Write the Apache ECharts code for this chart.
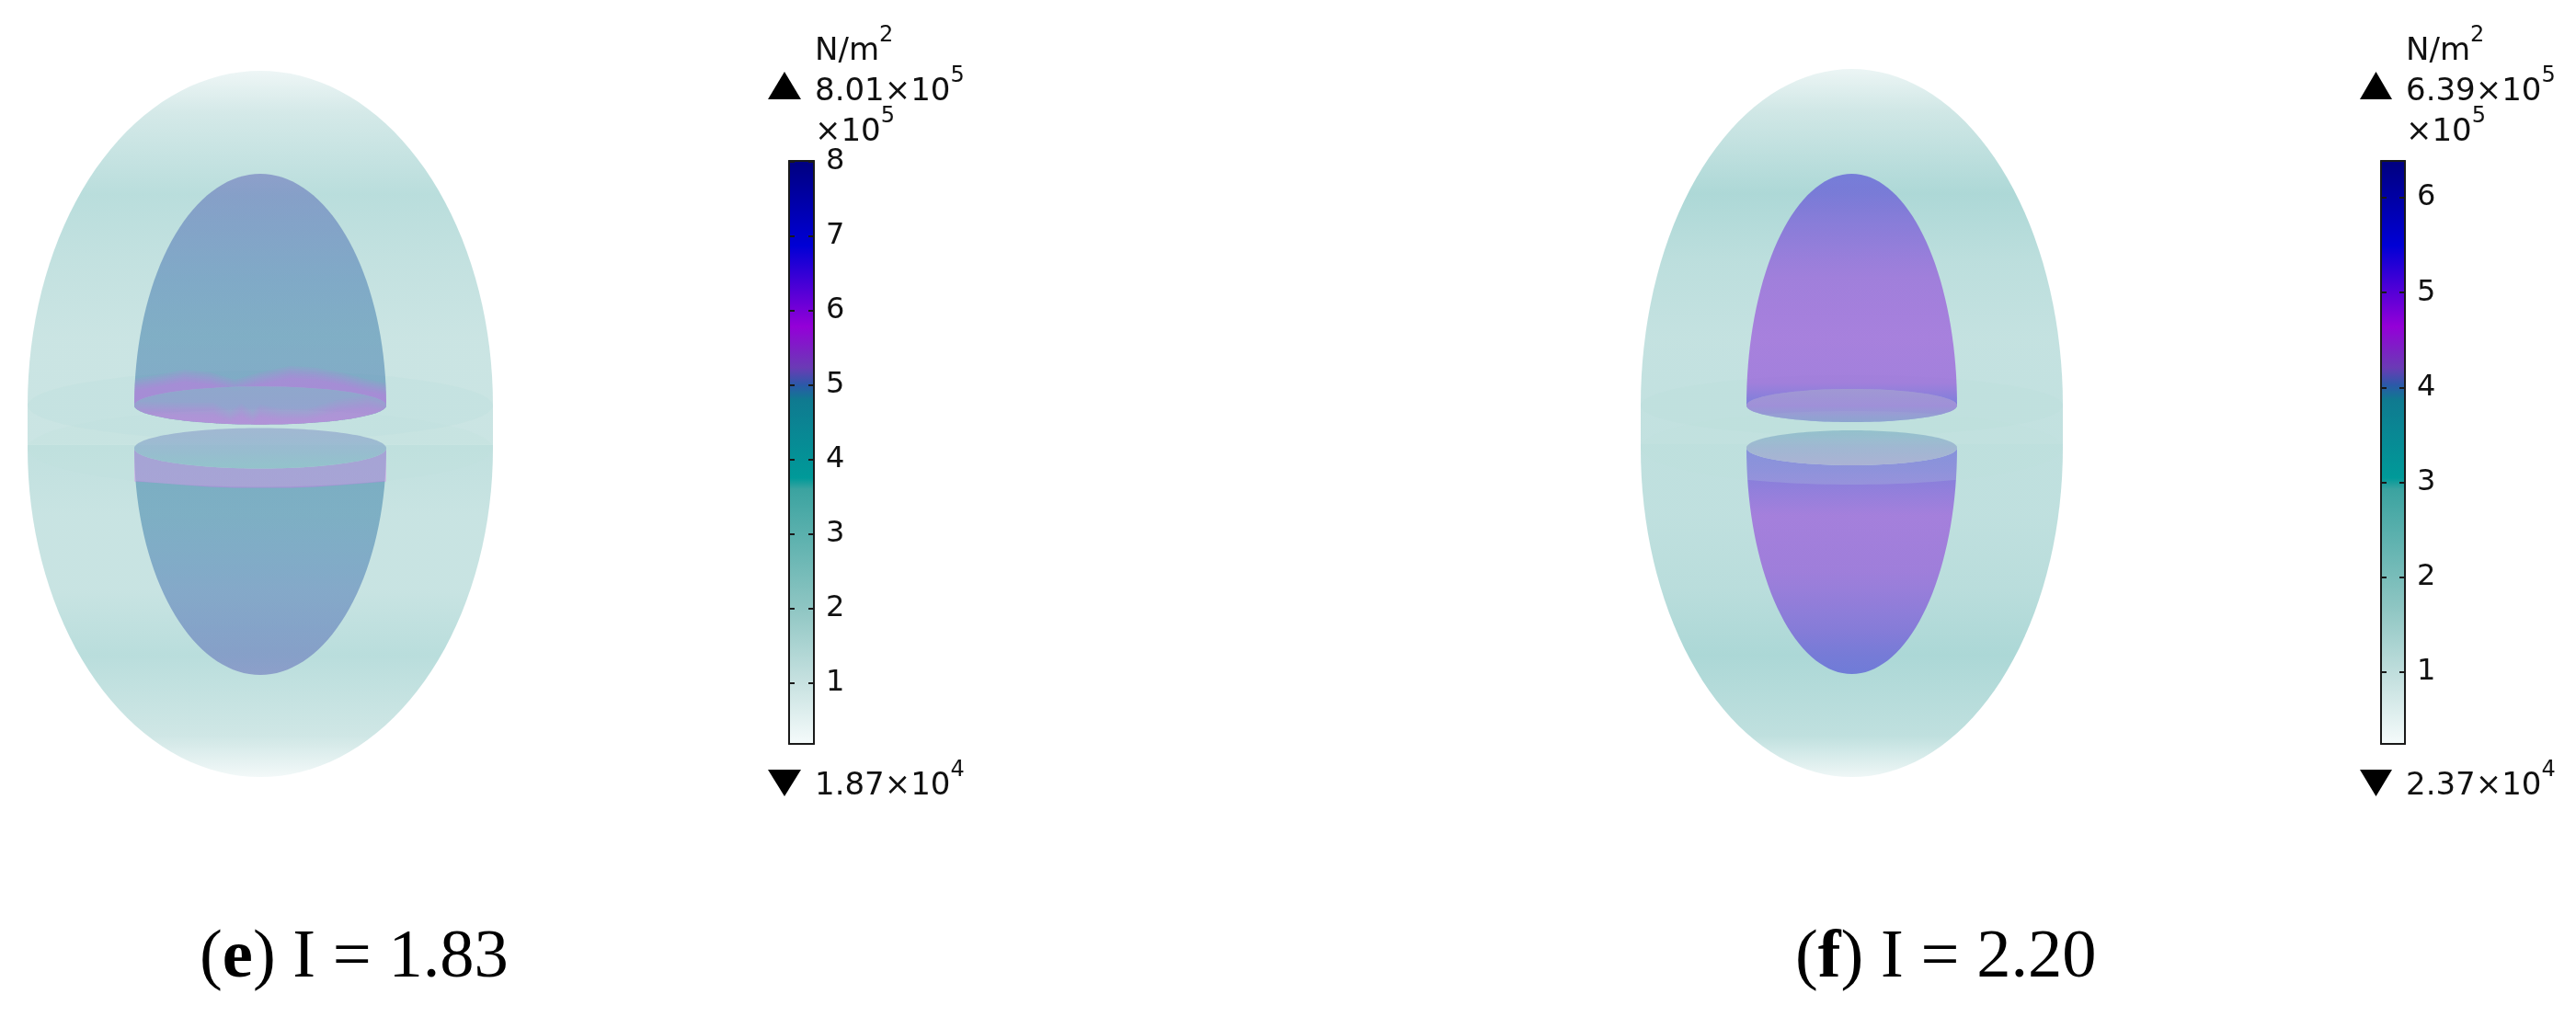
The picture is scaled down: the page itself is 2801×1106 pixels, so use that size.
<!DOCTYPE html>
<html>
<head>
<meta charset="utf-8">
<style>
html, body { margin: 0; padding: 0; background: #fff; }
#main { width: 2801px; height: 1106px; }
</style>
<script src="https://cdn.jsdelivr.net/npm/echarts@6/dist/echarts.min.js"></script>
</head>
<body>
<div id="main"></div>
<script>
// colour scale of the stress legend, offsets are fractions of the range
const scaleOffsets = [0, 0.104, 0.232, 0.437, 0.456, 0.59, 0.615, 0.645, 0.716, 0.855, 1];
const scaleColors = ["#f5fbfb", "#c8e2e1", "#8fc6c3", "#3ba3a0", "#009a99", "#0f7a90", "#2a5aa8", "#6a3bb5", "#9400d8", "#0000d5", "#00007f"];

// legend values, x10^5 N/m^2
const rangeE = [0.187, 8.01];
const rangeF = [0.237, 6.39];
const ticksE = [1, 2, 3, 4, 5, 6, 7, 8];
const ticksF = [1, 2, 3, 4, 5, 6];
const captionValues = ["1.83", "2.20"];
const maxMantissa = ["8.01", "6.39"];
const minMantissa = ["1.87", "2.37"];
const maxPower = "5";
const minPower = "4";

// stress along the domes, height 0 = rim, 1 = pole
const outerHeights = [0, 0.2, 0.43, 0.63, 0.875, 1];
const outerUpperE = [2.1, 2.1, 2.4, 2.8, 1.7, 0.7];
const outerLowerE = [2.5, 2.2, 2.2, 2.8, 1.9, 0.5];
const outerUpperF = [2.0, 1.95, 2.2, 2.7, 1.55, 0.7];
const outerLowerF = [2.1, 2.1, 2.3, 2.75, 2.1, 0.6];

const innerHeights = [0, 0.1, 0.3, 0.55, 0.8, 1];
const innerUpperE = [5.0, 4.95, 4.92, 4.97, 5.05, 5.12];
const innerLowerE = [4.9, 4.9, 4.9, 4.97, 5.05, 5.12];
const innerUpperF = [5.3, 4.8, 4.75, 4.8, 5.05, 5.3];
const innerLowerF = [5.35, 5.2, 4.75, 4.8, 5.05, 5.35];

// stress across the two cut faces, back edge to front edge
const faceUpperE = [4.95, 5.0, 5.2];
const faceLowerE = [5.1, 5.0, 4.85];
const faceUpperF = [4.2, 4.4, 4.05];
const faceLowerF = [3.93, 4.1, 4.2];

// edges of the high stress band around the rim in (e)
const bandX = [-1, -0.78, -0.6, -0.4, -0.2, 0, 0.24, 0.44, 0.64, 0.83, 1];
const bandUpperE = [29, 34, 39, 36, 28, 36, 43, 41, 36, 29, 24];
const bandLowerE = [36, 38, 40, 42, 43, 43, 43, 42, 40, 38, 36];
const faceBandX = [-1, -0.61, -0.37, -0.24, -0.15, -0.06, 0, 0.17, 0.37, 0.61, 0.85, 1];
const faceBandE = [4, 3, 3, -6, 2, -7, 1, -4, -4, 6, 11, 6];

// model geometry
const panelE = {
  halfH: 384, rimUp: 20, rimLow: -26.5,
  outer: {rx: 253, up: 364, low: 357.5},
  inner: {rx: 137, up: 252, low: 246.5},
  faceUp: 20.7, faceLow: 22, ringUp: 38, ringLow: 42
};
const panelF = {
  halfH: 385, rimUp: 19, rimLow: -27,
  outer: {rx: 229.5, up: 366, low: 358},
  inner: {rx: 114.5, up: 252, low: 246},
  faceUp: 18, faceLow: 19, ringUp: 33, ringLow: 40
};

const main_element = document.querySelector("#main");
const myChart = echarts.init(main_element);

function hexToRgb(hex) {
  return [1, 3, 5].map(function (i) { return parseInt(hex.substr(i, 2), 16); });
}

function stressColor(v, range, alpha) {
  const f = Math.min(1, Math.max(0, (v - range[0]) / (range[1] - range[0])));
  let i = 0;
  while (i < scaleOffsets.length - 2 && f > scaleOffsets[i + 1]) i++;
  const t = (f - scaleOffsets[i]) / (scaleOffsets[i + 1] - scaleOffsets[i]);
  const a = hexToRgb(scaleColors[i]);
  const b = hexToRgb(scaleColors[i + 1]);
  const c = a.map(function (x, k) { return Math.round(x + (b[k] - x) * t); });
  return "rgba(" + c.join(",") + "," + alpha + ")";
}

// half ellipse from -rx to +rx, side = 1 above the centre, -1 below it
function arc(cy, rx, ry, side) {
  const pts = [];
  for (let i = 0; i <= 72; i++) {
    const a = Math.PI * i / 72;
    pts.push([-rx * Math.cos(a), cy + side * ry * Math.sin(a)]);
  }
  return pts;
}

function customSeries(gridIndex, build, z) {
  return {
    type: "custom",
    xAxisIndex: gridIndex,
    yAxisIndex: gridIndex,
    data: [0],
    silent: true,
    clip: false,
    z: z,
    renderItem: function (params, api) {
      return build(api);
    }
  };
}

function verticalFill(api, yFrom, yTo, stops) {
  const p0 = api.coord([0, yFrom]);
  const p1 = api.coord([0, yTo]);
  return new echarts.graphic.LinearGradient(0, p0[1], 0, p1[1], stops, true);
}

function domeStops(heights, values, range, alpha) {
  return heights.map(function (h, i) {
    return {offset: h, color: stressColor(values[i], range, alpha)};
  });
}

function polygon(api, pts, fill) {
  return {
    type: "polygon",
    shape: {points: pts.map(function (p) { return api.coord(p); })},
    style: {fill: fill}
  };
}

// stacked thin layers so a wavy edge fades out instead of ending hard
function softBand(api, edge, closing, clipPts, color) {
  const children = [];
  for (let k = 0; k < 6; k++) {
    const pts = edge.map(function (p) { return [p[0], p[1] - k * 2.5]; }).concat(closing);
    children.push(polygon(api, pts, color));
  }
  return {
    type: "group",
    clipPath: {type: "polygon", shape: {points: clipPts.map(function (p) { return api.coord(p); })}},
    children: children
  };
}

function sceneSeries(gridIndex, panel, range, profile) {
  const list = [];
  const o = panel.outer;
  const n = panel.inner;
  const innerAlpha = 0.43;
  // outer silhouette, both halves
  const outerUpper = arc(panel.rimUp, o.rx, o.up, 1).concat([[o.rx, panel.rimLow + 4], [-o.rx, panel.rimLow + 4]]);
  list.push(customSeries(gridIndex, function (api) {
    const g = verticalFill(api, panel.rimUp, panel.rimUp + o.up, domeStops(outerHeights, profile.outerUp, range, 0.45));
    return polygon(api, outerUpper, g);
  }, 1));
  const outerLower = arc(panel.rimLow, o.rx, o.low, -1).concat([[o.rx, panel.rimLow + 4], [-o.rx, panel.rimLow + 4]]);
  list.push(customSeries(gridIndex, function (api) {
    const g = verticalFill(api, panel.rimLow, panel.rimLow - o.low, domeStops(outerHeights, profile.outerLow, range, 0.45));
    return polygon(api, outerLower, g);
  }, 1));

  // upper ring of the shell stays behind the inner body
  const ringUp = arc(panel.rimUp, o.rx, panel.ringUp, 1).concat(arc(panel.rimUp, o.rx, panel.ringUp, -1).reverse());
  list.push(customSeries(gridIndex, function (api) {
    return polygon(api, ringUp, "rgba(186,222,218,0.28)");
  }, 2));

  // inner body, upper half runs down to the front of its face
  const innerUpper = arc(panel.rimUp, n.rx, n.up, 1).concat(arc(panel.rimUp, n.rx, panel.faceUp, -1).reverse());
  const innerLower = arc(panel.rimLow, n.rx, n.low, -1).concat(arc(panel.rimLow, n.rx, panel.faceLow, -1).reverse());
  list.push(customSeries(gridIndex, function (api) {
    const g = verticalFill(api, panel.rimUp, panel.rimUp + n.up, domeStops(innerHeights, profile.innerUp, range, innerAlpha));
    return polygon(api, innerUpper, g);
  }, 3));
  list.push(customSeries(gridIndex, function (api) {
    const g = verticalFill(api, panel.rimLow, panel.rimLow - n.low, domeStops(innerHeights, profile.innerLow, range, innerAlpha));
    return polygon(api, innerLower, g);
  }, 3));

  // wavy high stress band of (e), a pale lilac over the body
  if (profile.bandUp) {
    const upEdge = bandX.map(function (x, i) { return [x * n.rx, panel.rimUp + profile.bandUp[i]]; });
    const upClose = arc(panel.rimUp, n.rx, panel.faceUp, -1).reverse();
    const lowEdge = bandX.map(function (x, i) { return [x * n.rx, panel.rimLow - profile.bandLow[i]]; });
    const lowPts = lowEdge.concat(arc(panel.rimLow, n.rx, panel.faceLow, -1).reverse());
    list.push(customSeries(gridIndex, function (api) {
      return softBand(api, upEdge, upClose, innerUpper, "rgba(230,105,244,0.08)");
    }, 4));
    list.push(customSeries(gridIndex, function (api) {
      return polygon(api, lowPts, "rgba(230,105,244,0.36)");
    }, 4));
  }

  // lower ring lies over the inner body
  const ringLow = arc(panel.rimLow, o.rx, panel.ringLow, 1).concat(arc(panel.rimLow, o.rx, panel.ringLow, -1).reverse());
  list.push(customSeries(gridIndex, function (api) {
    return polygon(api, ringLow, "rgba(190,226,222,0.2)");
  }, 5));

  // cut faces of the inner body
  [[panel.rimUp, panel.faceUp, profile.faceUp], [panel.rimLow, panel.faceLow, profile.faceLow]].forEach(function (d) {
    const face = arc(d[0], n.rx, d[1], 1).concat(arc(d[0], n.rx, d[1], -1).reverse());
    list.push(customSeries(gridIndex, function (api) {
      return polygon(api, face, "rgba(205,232,228,0.62)");
    }, 6));
    list.push(customSeries(gridIndex, function (api) {
      const g = verticalFill(api, d[0] + d[1], d[0] - d[1], [
        {offset: 0, color: stressColor(d[2][0], range, 0.3)},
        {offset: 0.5, color: stressColor(d[2][1], range, 0.3)},
        {offset: 1, color: stressColor(d[2][2], range, 0.3)}
      ]);
      return polygon(api, face, g);
    }, 7));
    if (profile.bandUp && d[0] === panel.rimUp) {
      const edge = faceBandX.map(function (x, i) { return [x * n.rx, d[0] + faceBandE[i]]; });
      const close = arc(d[0], n.rx, d[1], -1).reverse();
      list.push(customSeries(gridIndex, function (api) {
        return softBand(api, edge, close, face, "rgba(225,120,240,0.06)");
      }, 8));
    }
  });
  return list;
}

function legendBar(gridIndex, range) {
  const stops = scaleOffsets.map(function (o, i) {
    return {offset: 1 - o, color: scaleColors[i]};
  }).reverse();
  return {
    type: "bar",
    xAxisIndex: gridIndex,
    yAxisIndex: gridIndex,
    data: [range[1]],
    barWidth: "100%",
    silent: true,
    z: 1,
    itemStyle: {color: new echarts.graphic.LinearGradient(0, 0, 0, 1, stops)}
  };
}

const lineDark = {show: true, onZero: false, lineStyle: {color: "#1a1a1a", width: 2}};

function sceneAxis(gridIndex, half) {
  return {gridIndex: gridIndex, type: "value", min: -half, max: half, show: false};
}

const grids = [
  {left: 30, top: 77, width: 506, height: 768},
  {left: 1784, top: 75, width: 459, height: 770},
  {left: 858, top: 175, width: 27, height: 634},
  {left: 2589, top: 175, width: 26, height: 634}
];

function legendAxes(gridIndex, range, ticks) {
  const tickStyle = {show: true, inside: true, length: 6, customValues: ticks, lineStyle: {color: "#1a1a1a", width: 2}};
  return [
    {
      gridIndex: gridIndex, type: "value", position: "right", min: range[0], max: range[1], z: 10,
      axisLine: lineDark, splitLine: {show: false}, axisTick: tickStyle,
      axisLabel: {
        show: true, customValues: ticks, margin: 13, color: "#111",
        fontFamily: "DejaVu Sans", fontSize: 32,
        formatter: function (v) { return String(Math.round(v)); }
      }
    },
    {
      gridIndex: gridIndex, type: "value", position: "left", min: range[0], max: range[1], z: 10,
      axisLine: lineDark, splitLine: {show: false}, axisTick: tickStyle, axisLabel: {show: false}
    }
  ];
}

function legendX(gridIndex, position) {
  return {
    gridIndex: gridIndex, type: "category", data: [""], position: position, z: 10,
    axisLine: lineDark, axisTick: {show: false}, axisLabel: {show: false}
  };
}

const axesE = legendAxes(2, rangeE, ticksE);
const axesF = legendAxes(3, rangeF, ticksF);

// y is the bottom of the line box
function labelText(x, y, text) {
  return {
    type: "text", x: x, y: y, silent: true,
    style: {
      text: text, fill: "#111", font: "34px 'DejaVu Sans'", verticalAlign: "bottom",
      rich: {
        m: {fontFamily: "DejaVu Sans", fontSize: 34, fill: "#111", verticalAlign: "bottom", lineHeight: 46},
        s: {fontFamily: "DejaVu Sans", fontSize: 24, fill: "#111", verticalAlign: "top", lineHeight: 46}
      }
    }
  };
}

function power(mantissa, exp) {
  return "{m|" + mantissa + "×10}{s|" + exp + "}";
}

function triangle(x0, x1, yBase, yTip) {
  return {
    type: "polygon", silent: true,
    shape: {points: [[x0, yBase], [x1, yBase], [(x0 + x1) / 2, yTip]]},
    style: {fill: "#000"}
  };
}

function caption(letter, value, left, top) {
  return {
    text: "{r|(}{b|" + letter + "}{r|) I = " + value + "}",
    left: left, top: top, padding: 0,
    textStyle: {
      rich: {
        r: {fontFamily: "Liberation Serif", fontSize: 74.5, color: "#000", fontWeight: "normal"},
        b: {fontFamily: "Liberation Serif", fontSize: 74.5, color: "#000", fontWeight: "bold"}
      }
    }
  };
}

const series = [].concat(
  sceneSeries(0, panelE, rangeE, {
    outerUp: outerUpperE, outerLow: outerLowerE, innerUp: innerUpperE, innerLow: innerLowerE,
    faceUp: faceUpperE, faceLow: faceLowerE, bandUp: bandUpperE, bandLow: bandLowerE
  }),
  sceneSeries(1, panelF, rangeF, {
    outerUp: outerUpperF, outerLow: outerLowerF, innerUp: innerUpperF, innerLow: innerLowerF,
    faceUp: faceUpperF, faceLow: faceLowerF
  }),
  [legendBar(2, rangeE), legendBar(3, rangeF)]
);

myChart.setOption({
  backgroundColor: "#fff",
  animation: false,
  title: [caption("e", captionValues[0], 217, 1005), caption("f", captionValues[1], 1952, 1005)],
  grid: grids,
  xAxis: [sceneAxis(0, panelE.outer.rx), sceneAxis(1, panelF.outer.rx), legendX(2, "bottom"), legendX(3, "bottom"), legendX(2, "top"), legendX(3, "top")],
  yAxis: [sceneAxis(0, panelE.halfH), sceneAxis(1, panelF.halfH), axesE[0], axesF[0], axesE[1], axesF[1]],
  series: series,
  graphic: [
    labelText(886, 73, "{m|N/m}{s|2}"),
    labelText(886, 117, power(maxMantissa[0], maxPower)),
    labelText(886, 161, "{m|×10}{s|" + maxPower + "}"),
    labelText(886, 872, power(minMantissa[0], minPower)),
    triangle(835, 871, 108, 78),
    triangle(835, 871, 837, 866),
    labelText(2616, 73, "{m|N/m}{s|2}"),
    labelText(2616, 117, power(maxMantissa[1], maxPower)),
    labelText(2616, 161, "{m|×10}{s|" + maxPower + "}"),
    labelText(2616, 872, power(minMantissa[1], minPower)),
    triangle(2566, 2601, 108, 78),
    triangle(2566, 2601, 837, 866)
  ]
});
</script>
</body>
</html>
